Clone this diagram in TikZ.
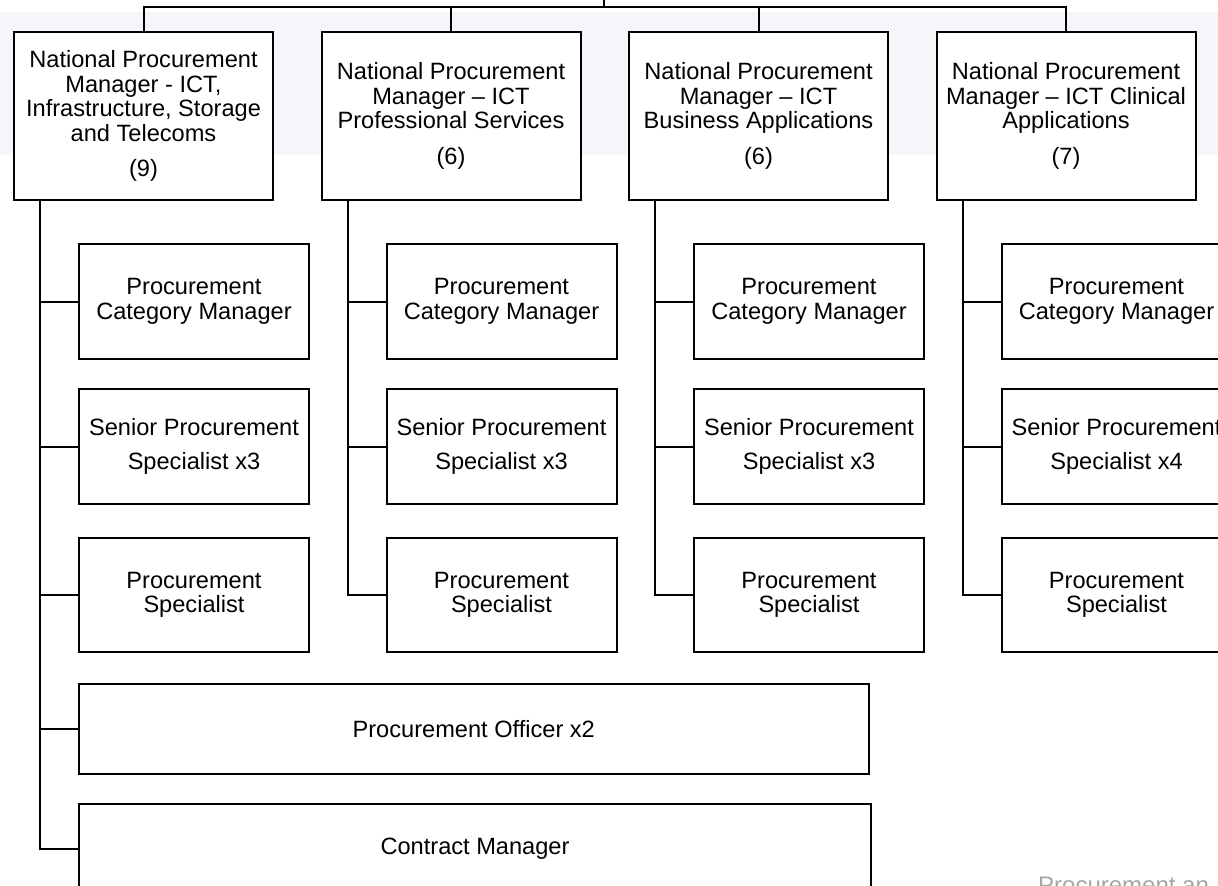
\documentclass[tikz,border=0pt]{standalone}
\usepackage{fontspec}
\setmainfont{Liberation Sans}
\usetikzlibrary{calc}
\definecolor{bandcol}{HTML}{F8F5FA}
\definecolor{notecol}{HTML}{A6A6A6}
\newcommand{\boxfont}{\fontsize{23.6}{24.5}\selectfont}
\tikzset{
  orgbox/.style={draw, line width=2pt, fill=white, align=center, inner sep=0pt,
    outer sep=0pt, anchor=north west, font=\boxfont},
  headbox/.style={orgbox, minimum width=259pt, minimum height=168pt},
  subbox/.style={orgbox, minimum width=230pt, minimum height=115pt},
  widebox/.style={orgbox, minimum height=90pt},
  link/.style={line width=2pt}
}
\begin{document}
\begin{tikzpicture}[x=1pt,y=-1pt]
\useasboundingbox (0,0) rectangle (1218,886);
\clip (0,0) rectangle (1218,886);
% shaded band behind the manager row
\fill[bandcol] (0,12) rectangle (1218,155);

% national procurement managers
\node[headbox] (m1) at (14,32) {National Procurement\\Manager - ICT,\\Infrastructure, Storage\\and Telecoms\\[11pt](9)};
\node[headbox] (m2) at (321.5,32) {National Procurement\\Manager \textendash{} ICT\\Professional Services\\[11pt](6)};
\node[headbox] (m3) at (629,32) {National Procurement\\Manager \textendash{} ICT\\Business Applications\\[11pt](6)};
\node[headbox] (m4) at (936.5,32) {National Procurement\\Manager \textendash{} ICT Clinical\\Applications\\[11pt](7)};

% reporting line from above
\coordinate (up) at (604,0);
\coordinate (bus) at (604,6.5);
\draw[link] (up) -- (bus);
\draw[link] (m1.north) |- (bus) -| (m4.north);
\draw[link] (bus -| m2.north) -- (m2.north);
\draw[link] (bus -| m3.north) -- (m3.north);

% team members under each manager
\foreach \i/\xl/\n in {1/79/3, 2/386.5/3, 3/694/3, 4/1001.5/4}{
  \node[subbox] (c\i a) at (\xl,244) {Procurement\\Category Manager};
  \node[subbox] (c\i b) at (\xl,389) {Senior Procurement\\[9.5pt]Specialist x\n};
  \node[subbox, minimum height=114pt] (c\i c) at (\xl,538) {Procurement\\Specialist};
  \coordinate (s\i) at ($(m\i.south west)+(26,0)$);
  \draw[link] (s\i) |- (c\i a.west);
  \draw[link] (s\i) |- (c\i b.west);
  \draw[link] (s\i) |- (c\i c.west);
}

\node[widebox, minimum width=789.5pt] (off) at (79,684) {Procurement Officer x2};
\node[widebox, minimum width=792pt] (con) at (79,804) {Contract Manager};
\draw[link] (s1) |- (off.west);
\draw[link] (s1) |- (con.west);

% footer text
\node[anchor=north west, inner sep=0pt, text=notecol, font=\fontsize{24}{26}\selectfont] (foot) at (1038,877) {Procurement an};
\end{tikzpicture}
\end{document}
